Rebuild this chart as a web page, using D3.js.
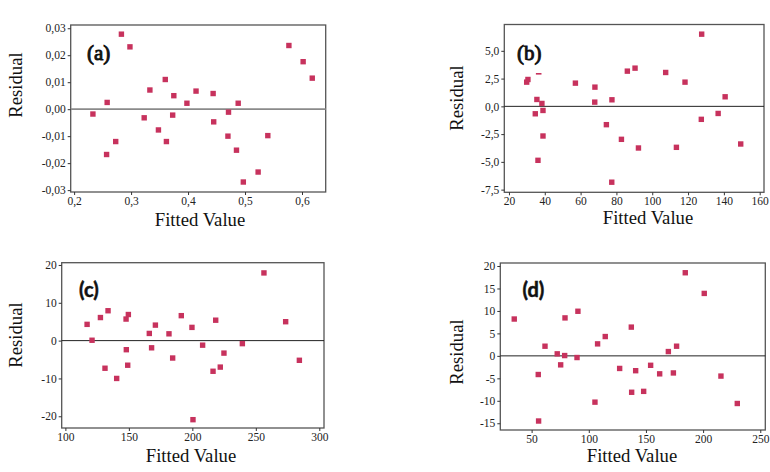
<!DOCTYPE html>
<html><head><meta charset="utf-8">
<script src="https://cdn.jsdelivr.net/npm/d3@7"></script>
<style>body{margin:0;background:#fff}svg{display:block}</style>
</head><body>
<svg id="c" width="770" height="472"></svg>
<script>
// ---- data ----
const aX=[0.233,0.258,0.257,0.273,0.283,0.298,0.323,0.333,0.348,0.360,0.362,0.373,0.375,0.398,0.414,0.444,0.445,0.471,0.470,0.488,0.485,0.497,0.523,0.540,0.577,0.602,0.618];
const aY=[-0.0018,0.0025,-0.0168,-0.0120,0.0278,0.0231,-0.0032,0.0071,-0.0077,0.0110,-0.0120,-0.0022,0.0050,0.0022,0.0067,0.0058,-0.0047,-0.0011,-0.0100,0.0022,-0.0152,-0.0270,-0.0233,-0.0098,0.0236,0.0176,0.0115];
const bX=[29.9,30.6,35.6,34.7,38.4,39.0,39.0,36.2,57.1,68.0,67.9,77.5,74.4,77.4,82.8,86.1,90.4,92.3,107.5,113.5,118.3,127.6,127.4,136.8,140.7,149.4];
const bY=[2.18,2.42,0.62,-0.67,0.26,-0.37,-2.67,-4.86,2.09,1.73,0.38,0.59,-1.65,-6.83,-2.97,3.17,3.44,-3.75,3.05,-3.69,2.18,6.50,-1.17,-0.64,0.86,-3.39];
const bDashX=[36.6], bDashY=[2.93];
const cX=[117.1,121.0,127.6,133.6,131.2,140.4,147.8,149.6,148.0,149.1,166.1,167.9,170.9,181.6,184.5,191.3,199.7,200.5,208.1,218.4,216.3,222.0,224.9,239.4,256.4,273.5,284.3];
const cY=[4.3,0.1,6.1,7.9,-7.3,-10.0,5.7,6.9,-2.4,-6.5,1.9,-1.9,4.1,1.8,-4.6,6.6,3.5,-20.9,-1.2,5.4,-8.1,-7.0,-3.3,-0.8,17.9,5.0,-5.2];
const dX=[34.8,55.8,56.1,61.7,72.4,75.4,78.9,79.2,89.7,90.5,105.4,107.7,114.4,127.0,137.2,137.5,141.0,148.0,154.1,162.0,169.6,174.0,176.8,184.4,201.0,215.6,229.9];
const dY=[8.2,-4.15,-14.5,2.15,0.45,-2.0,0.07,8.45,-0.37,9.93,-10.3,2.67,4.3,-2.8,6.4,-8.1,-3.3,-7.9,-2.1,-4.0,0.96,-3.8,2.15,18.5,13.9,-4.5,-10.6];

const aXTicks=[0.2,0.3,0.4,0.5,0.6], aXLabels=["0,2","0,3","0,4","0,5","0,6"];
const aYTicks=[0.03,0.02,0.01,0,-0.01,-0.02,-0.03], aYLabels=["0,03","0,02","0,01","0,00","-0,01","-0,02","-0,03"];
const bXTicks=[20,40,60,80,100,120,140,160], bXLabels=["20","40","60","80","100","120","140","160"];
const bYTicks=[5,2.5,0,-2.5,-5,-7.5], bYLabels=["5,0","2,5","0,0","-2,5","-5,0","-7,5"];
const cXTicks=[100,150,200,250,300], cXLabels=["100","150","200","250","300"];
const cYTicks=[20,10,0,-10,-20], cYLabels=["20","10","0","-10","-20"];
const dXTicks=[50,100,150,200,250], dXLabels=["50","100","150","200","250"];
const dYTicks=[20,15,10,5,0,-5,-10,-15], dYLabels=["20","15","10","5","0","-5","-10","-15"];

const xTitle="Fitted Value", yTitle="Residual";

// ---- layout ----
const panels=[
 {x:aX,y:aY,xt:aXTicks,xl:aXLabels,yt:aYTicks,yl:aYLabels,xd:[0.194,0.6416],yd:[-0.0307,0.0312],
  box:[70.7,25,325.7,192],lab:"(a)",labFont:"serif",lx:87,ly:59.5,zc:"#8a8a8a",zw:1.6,yx:16,yy:85,tx:200,ty:225.5},
 {x:bX,y:bY,xt:bXTicks,xl:bXLabels,yt:bYTicks,yl:bYLabels,xd:[17.4,162.4],yd:[-7.74,7.37],
  box:[504.3,24.5,764,192.3],lab:"(b)",labFont:"serif",lx:517,ly:59.5,zc:"#222",zw:1,yx:457,yy:98,tx:648,ty:224,dash:true},
 {x:cX,y:cY,xt:cXTicks,xl:cXLabels,yt:cYTicks,yl:cYLabels,xd:[97.1,303.7],yd:[-23.1,20.6],
  box:[61.7,262.7,324,428],lab:"(c)",labFont:"sans",lx:79,ly:297,zc:"#222",zw:1,yx:16,yy:335,tx:191,ty:462},
 {x:dX,y:dY,xt:dXTicks,xl:dXLabels,yt:dYTicks,yl:dYLabels,xd:[22.6,254.4],yd:[-16.5,20.67],
  box:[500.3,263,765.3,430],lab:"(d)",labFont:"sans",lx:522.5,ly:297,zc:"#222",zw:1,yx:457,yy:352,tx:632,ty:462}
];

const svg=d3.select("#c");
const serif='"Liberation Serif", "Times New Roman", serif';
const sans='Lato, "Open Sans", sans-serif';
const mcol="#c7325d";

panels.forEach(p=>{
  const [x0,y0,x1,y1]=p.box;
  const xs=d3.scaleLinear().domain(p.xd).range([x0,x1]);
  const ys=d3.scaleLinear().domain(p.yd).range([y1,y0]);
  const g=svg.append("g");
  g.append("rect").attr("x",x0).attr("y",y0).attr("width",x1-x0).attr("height",y1-y0)
    .attr("fill","none").attr("stroke","#555").attr("stroke-width",1.3);
  g.append("line").attr("x1",x0).attr("x2",x1).attr("y1",ys(0)).attr("y2",ys(0))
    .attr("stroke",p.zc).attr("stroke-width",p.zw);
  const xa=d3.axisBottom(xs).tickValues(p.xt).tickFormat((d,i)=>p.xl[i]).tickSize(3).tickSizeOuter(0).tickPadding(2);
  const ya=d3.axisLeft(ys).tickValues(p.yt).tickFormat((d,i)=>p.yl[i]).tickSize(3).tickSizeOuter(0).tickPadding(2);
  const gx=g.append("g").attr("transform",`translate(0,${y1})`).call(xa);
  const gy=g.append("g").attr("transform",`translate(${x0},0)`).call(ya);
  [gx,gy].forEach(a=>{
    a.attr("font-family",null).attr("font-size",null);
    a.select(".domain").remove();
    a.selectAll("line").attr("stroke","#333");
    a.selectAll("text").style("font-family",serif).style("font-size","11.5px").attr("fill","#222");
  });
  const s=5.4;
  g.selectAll("rect.pt").data(p.x.map((v,i)=>[v,p.y[i]])).join("rect").attr("class","pt")
    .attr("x",d=>xs(d[0])-s/2).attr("y",d=>ys(d[1])-s/2).attr("width",s).attr("height",s)
    .attr("fill",mcol);
  if(p.dash){
    g.selectAll("rect.dash").data(bDashX.map((v,i)=>[v,bDashY[i]])).join("rect").attr("class","dash")
      .attr("x",d=>xs(d[0])-2.8).attr("y",d=>ys(d[1])-0.8).attr("width",5.6).attr("height",1.6)
      .attr("fill",mcol);
  }
  const lt=g.append("text").attr("x",p.lx).attr("y",p.ly).text(p.lab).attr("fill","#111");
  if(p.labFont==="serif"){
    lt.style("font-family",serif).style("font-size","21px").attr("stroke","#111").attr("stroke-width",0.9);
  } else {
    lt.style("font-family",sans).style("font-weight","bold").style("font-size","20px").attr("stroke","#111").attr("stroke-width",0.5);
  }
  g.append("text").attr("x",p.tx).attr("y",p.ty).attr("text-anchor","middle").text(xTitle)
    .style("font-family",serif).style("font-size","18.7px").attr("fill","#111");
  g.append("text").attr("transform",`translate(${p.yx+6},${p.yy}) rotate(-90)`).attr("text-anchor","middle").text(yTitle)
    .style("font-family",serif).style("font-size","18.7px").attr("fill","#111");
});
</script>
</body></html>
